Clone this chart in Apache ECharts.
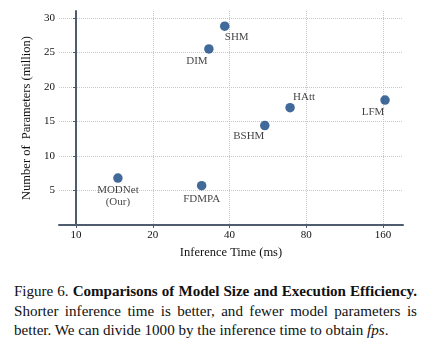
<!DOCTYPE html>
<html>
<head>
<meta charset="utf-8">
<script src="https://cdn.jsdelivr.net/npm/echarts@6/dist/echarts.min.js"></script>
<style>
html,body{margin:0;padding:0;background:#fff;}
#chart{position:absolute;left:0;top:0;width:435px;height:270px;}
#cap{position:absolute;left:14px;top:282px;width:403px;font-family:"Liberation Serif","Times New Roman",serif;font-size:15.1px;line-height:19.5px;color:#111;}
#cap div{text-align:justify;text-align-last:justify;white-space:nowrap;}
#cap div.first{letter-spacing:-0.05px;}
#cap div.last{text-align:left;text-align-last:left;}
</style>
</head>
<body>
<div id="chart"></div>
<div id="cap">
<div class="first">Figure 6. <b>Comparisons of Model Size and Execution Efficiency.</b></div>
<div>Shorter inference time is better, and fewer model parameters is</div>
<div class="last">better. We can divide 1000 by the inference time to obtain <i>fps</i>.</div>
</div>
<script>
const models = ['MODNet\n(Our)', 'FDMPA', 'BSHM', 'HAtt', 'LFM', 'DIM', 'SHM'];
const inferenceMs = [14.6, 31.1, 55.0, 69.1, 162.9, 33.2, 38.3];
const paramsM = [6.8, 5.7, 14.4, 17.0, 18.1, 25.5, 28.8];
const xTickMs = [10, 20, 40, 80, 160];
const yTicks = [5, 10, 15, 20, 25, 30];
// label offsets [dx, dy] relative to the point
const labelOffsets = [[0, 18], [0, 13], [-16, 11], [14, -11], [-12, 12], [-12, 12], [12, 11]];

const toLog = v => Math.log2(v / 10);
const serif = '"Liberation Serif","Times New Roman",serif';

const chart = echarts.init(document.getElementById('chart'));
chart.setOption({
  animation: false,
  grid: {left: 59, right: 32, top: 11, height: 214},
  xAxis: {
    type: 'value',
    min: -0.2215, max: 4.26,
    name: 'Inference Time (ms)', nameLocation: 'middle', nameGap: 18,
    nameTextStyle: {fontFamily: serif, fontSize: 12.5, color: '#111'},
    axisLine: {show: true, lineStyle: {color: '#4f5b6e', width: 2}},
    axisTick: {show: true, length: 3, customValues: xTickMs.map(toLog), lineStyle: {color: '#4f5b6e'}},
    axisLabel: {customValues: xTickMs.map(toLog), margin: 5, fontFamily: serif, fontSize: 11, color: '#111',
      formatter: v => String(Math.round(10 * Math.pow(2, v)))},
    splitLine: {show: true, lineStyle: {color: '#c8c8c8', type: [1, 1], width: 1}}
  },
  yAxis: {
    type: 'value',
    min: 0, max: 31,
    name: 'Number of  Parameters (million)', nameLocation: 'middle', nameGap: 24,
    nameTextStyle: {fontFamily: serif, fontSize: 12.5, color: '#111'},
    axisLine: {show: true, lineStyle: {color: '#4f5b6e', width: 2}},
    axisTick: {show: true, length: 3, customValues: yTicks, lineStyle: {color: '#4f5b6e'}},
    axisLabel: {customValues: yTicks, margin: 4, fontFamily: serif, fontSize: 11, color: '#111'},
    splitLine: {show: true, lineStyle: {color: '#c8c8c8', type: [1, 1], width: 1}}
  },
  series: [{
    type: 'scatter',
    symbolSize: 9.5,
    itemStyle: {color: '#124480'},
    data: models.map((m, i) => ({
      value: [toLog(inferenceMs[i]), paramsM[i]],
      name: m,
      label: {
        show: true, position: 'inside', formatter: m,
        offset: labelOffsets[i],
        fontFamily: serif, fontSize: 11, color: '#111', lineHeight: 12
      }
    }))
  }]
});
</script>
</body>
</html>
